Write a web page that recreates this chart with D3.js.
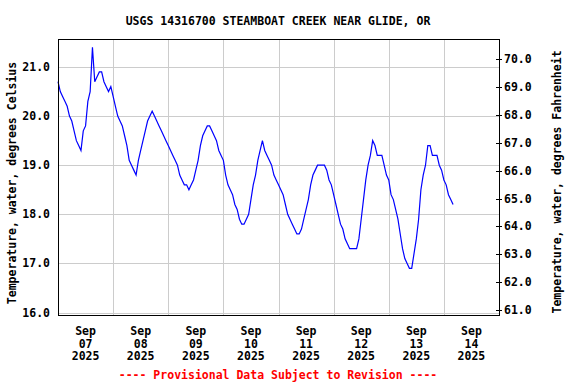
<!DOCTYPE html>
<html>
<head>
<meta charset="utf-8">
<script src="https://cdn.jsdelivr.net/npm/d3@7"></script>
<style>
  body { margin: 0; background: #fff; }
  text { font-family: "DejaVu Sans Mono", "Liberation Mono", monospace; font-weight: bold; font-size: 11.5px; }
  .grid line { stroke: #cccccc; stroke-width: 1; shape-rendering: crispEdges; }
</style>
</head>
<body>
<script>
// hourly water temperature (deg C), each array starts at 00:00 of its day
var sep07 = [20.7, 20.5, 20.4, 20.3, 20.2, 20.0, 19.9, 19.7, 19.5, 19.4, 19.3, 19.7,
             19.8, 20.3, 20.5, 21.4, 20.7, 20.8, 20.9, 20.9, 20.7, 20.6, 20.5, 20.6];
var sep08 = [20.4, 20.2, 20.0, 19.9, 19.8, 19.6, 19.4, 19.1, 19.0, 18.9, 18.8, 19.1,
             19.3, 19.5, 19.7, 19.9, 20.0, 20.1, 20.0, 19.9, 19.8, 19.7, 19.6, 19.5];
var sep09 = [19.4, 19.3, 19.2, 19.1, 19.0, 18.8, 18.7, 18.6, 18.6, 18.5, 18.6, 18.7,
             18.9, 19.1, 19.4, 19.6, 19.7, 19.8, 19.8, 19.7, 19.6, 19.5, 19.3, 19.2];
var sep10 = [19.1, 18.8, 18.6, 18.5, 18.4, 18.2, 18.1, 17.9, 17.8, 17.8, 17.9, 18.0,
             18.3, 18.6, 18.8, 19.1, 19.3, 19.5, 19.3, 19.2, 19.1, 19.0, 18.8, 18.7];
var sep11 = [18.6, 18.5, 18.4, 18.2, 18.0, 17.9, 17.8, 17.7, 17.6, 17.6, 17.7, 17.9,
             18.1, 18.3, 18.6, 18.8, 18.9, 19.0, 19.0, 19.0, 19.0, 18.9, 18.7, 18.6];
var sep12 = [18.4, 18.2, 18.0, 17.8, 17.7, 17.5, 17.4, 17.3, 17.3, 17.3, 17.3, 17.5,
             17.9, 18.3, 18.7, 19.0, 19.2, 19.5, 19.4, 19.2, 19.2, 19.2, 19.0, 18.8];
var sep13 = [18.7, 18.4, 18.3, 18.1, 17.9, 17.6, 17.3, 17.1, 17.0, 16.9, 16.9, 17.2,
             17.5, 17.9, 18.5, 18.8, 19.0, 19.4, 19.4, 19.2, 19.2, 19.2, 19.0, 18.9];
var sep14 = [18.7, 18.6, 18.4, 18.3, 18.2];

var celsiusTicks = [16, 17, 18, 19, 20, 21];
var fahrenheitTicks = [61, 62, 63, 64, 65, 66, 67, 68, 69, 70];
var dayTicks = [7, 8, 9, 10, 11, 12, 13, 14];

var startDate = new Date(2025, 8, 7);
var endDate = new Date(2025, 8, 15);

var temps = [].concat(sep07, sep08, sep09, sep10, sep11, sep12, sep13, sep14);
var data = temps.map(function(t, i) {
    return { date: d3.timeHour.offset(startDate, i), temp: t };
});

var width = 576, height = 384;
var plot = {left: 58, right: 499, top: 39, bottom: 315};

var svg = d3.select("body").append("svg")
    .attr("width", width)
    .attr("height", height);

var xScale = d3.scaleTime().domain([startDate, endDate]).range([plot.left, plot.right]);
var yScale = d3.scaleLinear().domain([15.95, 21.57]).range([plot.bottom, plot.top]);
var yScaleF = d3.scaleLinear().domain([60.83, 70.71]).range([plot.bottom, plot.top]);

// horizontal gridlines
svg.append("g").attr("class", "grid")
    .selectAll("line").data(celsiusTicks).enter().append("line")
    .attr("x1", plot.left).attr("x2", plot.right)
    .attr("y1", function(d) { return Math.round(yScale(d)) + 0.5; })
    .attr("y2", function(d) { return Math.round(yScale(d)) + 0.5; });

// vertical gridlines at midnight
var midnights = dayTicks.slice(1).map(function(d) { return new Date(2025, 8, d); });
svg.append("g").attr("class", "grid")
    .selectAll("line").data(midnights).enter().append("line")
    .attr("x1", function(d) { return Math.round(xScale(d)) + 0.5; })
    .attr("x2", function(d) { return Math.round(xScale(d)) + 0.5; })
    .attr("y1", plot.top).attr("y2", plot.bottom);

// the temperature line
var lineGen = d3.line()
    .x(function(d) { return xScale(d.date); })
    .y(function(d) { return yScale(d.temp); });

svg.append("path")
    .datum(data)
    .attr("d", lineGen)
    .attr("fill", "none")
    .attr("stroke", "#0000ff")
    .attr("stroke-width", 1.2);

// plot frame
svg.append("rect")
    .attr("x", plot.left + 0.5).attr("y", plot.top + 0.5)
    .attr("width", plot.right - plot.left).attr("height", plot.bottom - plot.top)
    .attr("fill", "none").attr("stroke", "#000").attr("stroke-width", 1)
    .attr("shape-rendering", "crispEdges");

// left axis labels
svg.append("g").selectAll("text").data(celsiusTicks).enter().append("text")
    .attr("x", 50)
    .attr("y", function(d) { return yScale(d); })
    .attr("dy", "0.35em")
    .attr("text-anchor", "end")
    .text(d3.format(".1f"));

// right axis ticks + labels
var right = svg.append("g");
right.selectAll("line").data(fahrenheitTicks).enter().append("line")
    .attr("x1", plot.right - 3).attr("x2", plot.right + 3)
    .attr("y1", function(d) { return Math.round(yScaleF(d)) + 0.5; })
    .attr("y2", function(d) { return Math.round(yScaleF(d)) + 0.5; })
    .attr("stroke", "#000")
    .attr("shape-rendering", "crispEdges");
right.selectAll("text").data(fahrenheitTicks).enter().append("text")
    .attr("x", plot.right + 5)
    .attr("y", function(d) { return yScaleF(d); })
    .attr("dy", "0.35em")
    .text(d3.format(".1f"));

// date labels at noon of each day
var fmts = [d3.timeFormat("%b"), d3.timeFormat("%d"), d3.timeFormat("%Y")];
var dateLabels = svg.append("g").selectAll("text")
    .data(dayTicks.map(function(d) { return new Date(2025, 8, d, 12); }))
    .enter().append("text")
    .attr("text-anchor", "middle");
fmts.forEach(function(f, i) {
    dateLabels.append("tspan")
        .attr("x", function(d) { return xScale(d); })
        .attr("y", 331 + i * 12.7)
        .attr("dy", "0.35em")
        .text(function(d) { return f(d); });
});

// title
svg.append("text")
    .attr("x", 278).attr("y", 21).attr("dy", "0.35em")
    .attr("text-anchor", "middle")
    .text("USGS 14316700 STEAMBOAT CREEK NEAR GLIDE, OR");

// axis titles
svg.append("text")
    .attr("transform", "translate(12,183) rotate(-90)")
    .attr("dy", "0.35em")
    .attr("text-anchor", "middle")
    .text("Temperature, water, degrees Celsius");

svg.append("text")
    .attr("transform", "translate(557,182) rotate(-90)")
    .attr("dy", "0.35em")
    .attr("text-anchor", "middle")
    .text("Temperature, water, degrees Fahrenheit");

// provisional note
svg.append("text")
    .attr("x", 278).attr("y", 375).attr("dy", "0.35em")
    .attr("text-anchor", "middle")
    .attr("fill", "#ff0000")
    .text("---- Provisional Data Subject to Revision ----");
</script>
</body>
</html>
